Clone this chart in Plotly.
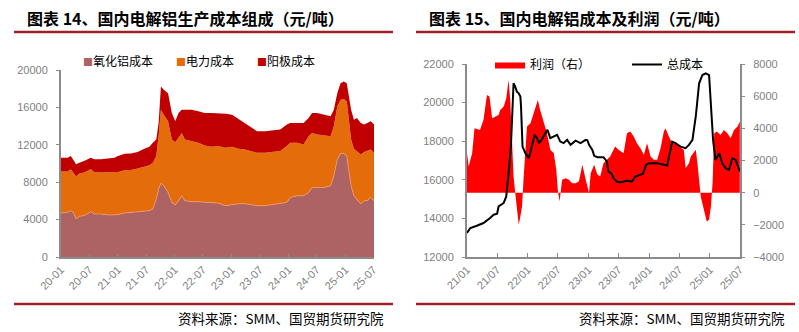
import plotly.graph_objects as go

# ---------------- Left chart data: 国内电解铝生产成本组成 ----------------
lc_dates = ["2020-01-01","2020-02-13","2020-03-04","2020-03-20","2020-04-07","2020-04-28","2020-05-28",
            "2020-07-10","2020-08-01","2020-09-15","2020-10-28","2020-12-10","2021-01-01","2021-02-13",
            "2021-03-25","2021-05-07","2021-06-19","2021-07-22","2021-08-13","2021-09-04","2021-09-19",
            "2021-10-04","2021-10-22","2021-11-19","2021-12-13","2022-01-04","2022-01-25","2022-02-15",
            "2022-03-07","2022-04-19","2022-06-01","2022-07-13","2022-08-25","2022-10-07","2022-11-22",
            "2023-01-04","2023-02-15","2023-03-28","2023-05-10","2023-06-13","2023-08-04","2023-09-19",
            "2023-11-10","2023-12-22","2024-01-13","2024-02-25","2024-04-07","2024-05-10","2024-06-01",
            "2024-07-04","2024-08-16","2024-09-28","2024-10-19","2024-11-10","2024-12-01","2024-12-22",
            "2025-01-10","2025-01-25","2025-02-07","2025-02-25","2025-03-16","2025-04-10","2025-05-01",
            "2025-05-22","2025-06-13","2025-07-04"]
alumina_cost = [4708,4780,4956,4780,4071,4354,4425,4850,4602,4602,4496,4496,4531,4708,4780,4850,4956,4956,
                5133,6195,7257,7894,7611,6903,5841,5558,6018,6549,6018,5912,5912,5841,5770,5770,5487,5629,
                5699,5699,5558,5487,5487,5629,5770,5841,6372,6549,6549,6903,7434,7434,7434,7611,8673,10443,
                11045,11080,10797,9027,7611,6549,6195,5664,6018,6018,6372,6018]
power_cost = [4425,4353,4425,4247,4529,4566,4602,4531,4498,4425,4531,4531,4569,4567,4530,4602,4708,4850,
              4956,4602,5664,7859,7611,7611,6726,6726,6726,6726,6549,6478,6301,6089,6018,6089,6195,6159,
              5877,5806,5770,5664,5664,5593,5558,6018,5841,5664,5487,6018,5841,5664,5558,5310,5310,5664,
              5770,5806,5841,5310,4956,5027,5133,5310,5204,5310,5133,5133]
anode_cost = [1487,1487,1419,1416,1312,1170,1239,1239,1343,1416,1487,1593,1697,1770,1770,1770,1912,1982,
              2124,1770,1416,2478,2655,3009,2832,2230,2655,2478,3186,3363,3363,3469,3611,3540,3646,3434,
              3186,2832,2478,2301,2301,2336,2301,2301,2124,2124,2301,1947,2124,2301,2230,2124,1770,1416,
              1770,1876,1947,2832,3186,3115,3540,3363,2938,3009,3009,3009]
left_names = ["氧化铝成本", "电力成本", "阳极成本"]
left_colors = ["#AD6363", "#E46C0A", "#C00000"]
left_tickvals = ["2020-01-01","2020-07-01","2021-01-01","2021-07-01","2022-01-01","2022-07-01",
                 "2023-01-01","2023-07-01","2024-01-01","2024-07-01","2025-01-01","2025-07-01"]
left_ticktext = ["20-01","20-07","21-01","21-07","22-01","22-07","23-01","23-07","24-01","24-07","25-01","25-07"]

# ---------------- Right chart data: 国内电解铝成本及利润 ----------------
cost_dates = ["2021-01-01","2021-01-21","2021-03-01","2021-04-10","2021-05-20","2021-06-10","2021-07-01",
              "2021-07-10","2021-08-10","2021-08-25","2021-09-08","2021-09-22","2021-10-08","2021-10-18",
              "2021-10-28","2021-11-08","2021-11-18","2021-11-22","2021-12-01","2021-12-18","2022-01-08",
              "2022-01-28","2022-02-12","2022-02-27","2022-03-10","2022-03-25","2022-04-07","2022-04-30",
              "2022-05-17","2022-06-07","2022-06-27","2022-07-16","2022-08-05","2022-08-26","2022-09-16",
              "2022-10-16","2022-11-15","2022-12-16","2022-12-26","2023-01-05","2023-01-15","2023-01-25",
              "2023-02-05","2023-02-25","2023-03-15","2023-04-02","2023-04-22","2023-05-02","2023-05-22",
              "2023-06-01","2023-06-20","2023-07-10","2023-08-21","2023-09-20","2023-10-10","2023-11-10",
              "2023-11-25","2023-12-15","2024-01-01","2024-02-19","2024-03-20","2024-04-19","2024-05-19",
              "2024-06-08","2024-07-08","2024-08-08","2024-08-28","2024-09-18","2024-10-08","2024-10-28",
              "2024-11-17","2024-12-07","2024-12-27","2025-01-10","2025-01-20","2025-02-03","2025-02-26",
              "2025-03-16","2025-04-06","2025-04-26","2025-05-16","2025-06-05","2025-06-30"]
total_cost = [13250,13500,13620,13760,14020,14190,14240,14620,14800,15140,16340,17720,21000,20830,20570,
              20480,20310,19790,17720,17380,17120,17900,18330,18160,17900,18070,18240,18590,18160,18240,
              18330,17980,17900,18070,17810,18030,17900,18070,18050,17810,17640,17550,17240,17170,17170,
              17170,16950,16430,16310,16090,15910,15860,15950,15910,16170,16260,16310,16780,16860,16860,
              16780,16740,17980,17900,17720,17640,17810,18070,19280,21000,21430,21520,21430,19620,18070,
              17030,17380,16860,16600,16520,17120,17030,16430]
profit_dates = ["2021-01-01","2021-01-11","2021-02-01","2021-02-15","2021-03-20","2021-04-10","2021-05-01",
                "2021-05-16","2021-06-01","2021-06-20","2021-07-10","2021-07-20","2021-08-10","2021-08-25",
                "2021-09-08","2021-09-18","2021-09-29","2021-10-08","2021-10-18","2021-10-28","2021-11-08",
                "2021-11-18","2021-11-28","2021-12-08","2021-12-28","2022-01-18","2022-02-07","2022-03-03",
                "2022-03-17","2022-04-07","2022-04-27","2022-05-17","2022-06-07","2022-06-22","2022-07-01",
                "2022-07-12","2022-07-27","2022-08-16","2022-09-06","2022-09-26","2022-10-16","2022-11-05",
                "2022-11-26","2022-12-16","2023-01-05","2023-01-15","2023-02-05","2023-02-23","2023-03-13",
                "2023-04-02","2023-04-22","2023-05-12","2023-06-11","2023-07-01","2023-08-01","2023-08-21",
                "2023-09-10","2023-10-01","2023-10-20","2023-11-10","2023-12-01","2023-12-20","2024-01-10",
                "2024-01-30","2024-02-19","2024-03-10","2024-03-30","2024-04-09","2024-04-29","2024-05-19",
                "2024-06-08","2024-06-28","2024-07-28","2024-08-08","2024-08-28","2024-09-08","2024-10-08",
                "2024-10-18","2024-11-07","2024-11-27","2024-12-13","2024-12-27","2025-01-07","2025-01-17",
                "2025-01-27","2025-02-12","2025-03-06","2025-03-26","2025-04-16","2025-05-06","2025-05-26",
                "2025-06-16","2025-06-30"]
profit = [2455,1627,2455,4007,3900,4524,6076,5972,4628,4731,4834,5145,5352,5869,7007,5766,3490,1007,0,
          -1062,-1993,-1476,-855,1007,4110,4317,4938,5765,5145,4317,3697,2662,2455,1420,180,-545,800,904,
          800,593,593,696,1731,800,0,1214,1731,1150,1007,1834,2041,2248,2869,2662,2455,3697,3800,3490,3076,
          2766,2352,3076,2248,2041,2041,2766,3800,4007,3490,3076,3076,2869,2662,1524,1834,2248,2662,1834,
          -248,-1062,-1786,-1683,-855,593,3697,3800,3593,3900,3697,3386,3900,4110,4421]
right_tickvals = ["2021-01-01","2021-07-01","2022-01-01","2022-07-01","2023-01-01","2023-07-01",
                  "2024-01-01","2024-07-01","2025-01-01","2025-07-01"]
right_ticktext = ["21/01","21/07","22/01","22/07","23/01","23/07","24/01","24/07","25/01","25/07"]

W, H = 799, 332
def px(x):
    return x / W
def py(y):
    return 1 - y / H

fig = go.Figure()

# left stacked area
for vals, name, col in zip([alumina_cost, power_cost, anode_cost], left_names, left_colors):
    fig.add_trace(go.Scatter(
        x=lc_dates, y=vals, name=name, stackgroup="one", mode="lines",
        line=dict(width=0.8 if name == "氧化铝成本" else 0,
                  color="#EE9A6A" if name == "氧化铝成本" else col),
        fillcolor=col, showlegend=False, xaxis="x", yaxis="y"))

# right: profit (right axis) then total cost (left axis, drawn on top)
fig.add_trace(go.Scatter(
    x=profit_dates, y=profit, name="利润（右）", mode="lines", fill="tozeroy",
    line=dict(width=0, color="#FF0000"), fillcolor="#FF0000",
    xaxis="x2", yaxis="y2", legend="legend"))
fig.add_trace(go.Scatter(
    x=cost_dates, y=total_cost, name="总成本", mode="lines",
    line=dict(width=2, color="#000000"),
    xaxis="x2", yaxis="y3", legend="legend"))

tickfont = dict(family="Liberation Sans, Arial", size=11, color="#7F7F7F")
axcol = "#8C8C8C"

fig.update_layout(
    width=W, height=H, autosize=False,
    margin=dict(l=0, r=0, t=0, b=0, autoexpand=False),
    paper_bgcolor="white", plot_bgcolor="rgba(0,0,0,0)",
    xaxis=dict(domain=[px(61), px(374)], type="date", range=["2020-01-01", "2025-07-04"],
               tickvals=left_tickvals, ticktext=left_ticktext, tickangle=-45,
               ticks="inside", ticklen=3, tickcolor=axcol, tickfont=tickfont,
               showline=True, linecolor=axcol, linewidth=2, showgrid=False, zeroline=False,
               anchor="y", automargin=False),
    yaxis=dict(domain=[py(257), py(70)], range=[0, 20000], dtick=4000, tickformat="d",
               ticks="outside", ticklen=3, tickcolor=axcol, tickfont=tickfont,
               showline=True, linecolor=axcol, linewidth=2, showgrid=False, zeroline=False,
               anchor="x", ticklabelstandoff=6, automargin=False),
    xaxis2=dict(domain=[px(467), px(740)], type="date", range=["2021-01-01", "2025-07-01"],
                tickvals=right_tickvals, ticktext=right_ticktext, tickangle=-45,
                ticks="inside", ticklen=4, tickcolor=axcol, tickfont=tickfont,
                showline=True, linecolor=axcol, linewidth=2, showgrid=False, zeroline=False,
                anchor="y2", automargin=False),
    yaxis2=dict(domain=[py(257), py(64)], range=[-4000, 8000], dtick=2000, tickformat="d",
                side="right", ticks="outside", ticklen=3, tickcolor=axcol, tickfont=tickfont,
                showline=True, linecolor=axcol, linewidth=2, showgrid=False, zeroline=False,
                anchor="x2", ticklabelstandoff=6, automargin=False),
    yaxis3=dict(range=[12000, 22000], dtick=2000, tickformat="d", overlaying="y2", side="left",
                anchor="x2", ticks="outside", ticklen=3, tickcolor=axcol, tickfont=tickfont,
                showline=True, linecolor=axcol, linewidth=2, showgrid=False, zeroline=False,
                ticklabelstandoff=6, automargin=False),
    legend=dict(orientation="h", x=px(490), y=py(50), xanchor="left", yanchor="top",
                traceorder="normal",
                bgcolor="rgba(0,0,0,0)", borderwidth=0, entrywidth=92, entrywidthmode="pixels",
                font=dict(family="Noto Sans CJK SC", size=12, color="#000000"),
                itemclick=False, itemdoubleclick=False),
)

# titles, rules and source notes
title_font = dict(family="Noto Sans CJK SC", size=16, color="#000000")
fig.add_annotation(text="<b>图表 14、国内电解铝生产成本组成（元/吨）</b>", x=px(25), y=py(18),
                   xref="paper", yref="paper", xanchor="left", yanchor="middle",
                   showarrow=False, font=title_font)
fig.add_annotation(text="<b>图表 15、国内电解铝成本及利润（元/吨）</b>", x=px(427), y=py(18),
                   xref="paper", yref="paper", xanchor="left", yanchor="middle",
                   showarrow=False, font=title_font)
rule_col = "#9B2226"
for x0, x1 in [(14, 393), (416, 795)]:
    fig.add_shape(type="line", xref="paper", yref="paper", x0=px(x0), x1=px(x1), y0=py(32), y1=py(32),
                  line=dict(color=rule_col, width=2.5))
    fig.add_shape(type="line", xref="paper", yref="paper", x0=px(x0), x1=px(x1), y0=py(304), y1=py(304),
                  line=dict(color=rule_col, width=2.5))
src_font = dict(family="Noto Sans CJK SC", size=13.5, color="#000000")
fig.add_annotation(text="资料来源：SMM、国贸期货研究院", x=px(386), y=py(318), xref="paper", yref="paper",
                   xanchor="right", yanchor="middle", showarrow=False, font=src_font)
fig.add_annotation(text="资料来源：SMM、国贸期货研究院", x=px(787), y=py(318), xref="paper", yref="paper",
                   xanchor="right", yanchor="middle", showarrow=False, font=src_font)

# left legend (colored square + label)
leg_font = dict(family="Noto Sans CJK SC", size=12, color="#000000")
for name, col, lx in zip(left_names, left_colors, [81, 174, 255]):
    fig.add_annotation(text=f'<span style="color:{col};font-size:10px">■</span>{name}',
                       x=px(lx), y=py(60), xref="paper", yref="paper", xanchor="left",
                       yanchor="middle", showarrow=False, font=leg_font)

fig.write_html("out.html")
